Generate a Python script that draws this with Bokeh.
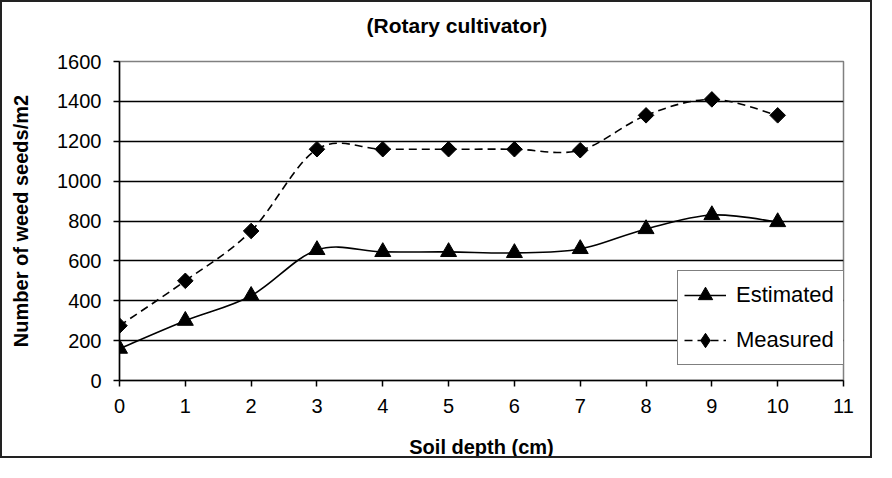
import math
from bokeh.plotting import figure
from bokeh.models import (ColumnDataSource, Legend, LegendItem, FixedTicker,
                          Range1d, Title)
from bokeh.embed import file_html
from bokeh.resources import INLINE

# ---- data ----
depth = [0, 1, 2, 3, 4, 5, 6, 7, 8, 9, 10]
estimated = [160, 300, 425, 655, 645, 645, 640, 660, 760, 830, 795]
measured = [275, 500, 750, 1160, 1160, 1160, 1160, 1155, 1330, 1410, 1330]
x_ticks = [0, 1, 2, 3, 4, 5, 6, 7, 8, 9, 10, 11]
y_ticks = [0, 200, 400, 600, 800, 1000, 1200, 1400, 1600]
grid_ticks = [200, 400, 600, 800, 1000, 1200, 1400]
title_text = "(Rotary cultivator)"
x_title = "Soil depth (cm)"
y_title = "Number of weed seeds/m2"
series_names = ["Estimated", "Measured"]

FONT = "Liberation Sans"
DASH = "8 5"


def smooth_segments(xs, ys):
    """Cubic Bezier pieces (Catmull-Rom style) like Excel's smoothed line."""
    n = len(xs)
    d = dict(x0=[], y0=[], x1=[], y1=[], cx0=[], cy0=[], cx1=[], cy1=[])
    for i in range(n - 1):
        a = i - 1 if i > 0 else i
        b = i + 2 if i + 2 < n else i + 1
        d["x0"].append(xs[i]); d["y0"].append(ys[i])
        d["x1"].append(xs[i + 1]); d["y1"].append(ys[i + 1])
        d["cx0"].append(xs[i] + (xs[i + 1] - xs[a]) / 6)
        d["cy0"].append(ys[i] + (ys[i + 1] - ys[a]) / 6)
        d["cx1"].append(xs[i + 1] - (xs[b] - xs[i]) / 6)
        d["cy1"].append(ys[i + 1] - (ys[b] - ys[i]) / 6)
    return ColumnDataSource(d)


p = figure(width=872, height=458, title=None,
           x_range=Range1d(0, 11), y_range=Range1d(0, 1600),
           output_backend="svg", toolbar_location=None,
           min_border_left=117, min_border_right=31,
           min_border_top=59, min_border_bottom=79,
           background_fill_color="white", border_fill_color="white",
           styles={"border": "2px solid #222222"})

p.outline_line_color = "#808080"
p.outline_line_width = 1.5

# title: an empty spacer nearest the frame, then the real title above it
spacer = Title(text=" ", text_font=FONT, text_font_size="10px", standoff=11)
p.add_layout(spacer, "above")
main_title = Title(text=title_text, text_font=FONT, text_font_size="21px",
                   text_font_style="bold", text_color="black",
                   align="left", vertical_align="middle", offset=247, standoff=0)
p.add_layout(main_title, "above")

# grid
p.xgrid.visible = False
p.ygrid.ticker = FixedTicker(ticks=grid_ticks)
p.ygrid.grid_line_color = "black"
p.ygrid.grid_line_width = 1.4

# axes
for ax in (p.xaxis[0], p.yaxis[0]):
    ax.axis_line_color = "black"
    ax.axis_line_width = 1.5
    ax.major_tick_line_color = "black"
    ax.major_tick_line_width = 1.5
    ax.major_tick_in = 0
    ax.major_tick_out = 6
    ax.minor_tick_line_color = None
    ax.major_label_text_font = FONT
    ax.major_label_text_font_size = "20px"
    ax.major_label_text_color = "black"
    ax.axis_label_text_font = FONT
    ax.axis_label_text_font_size = "20px"
    ax.axis_label_text_font_style = "bold"
    ax.axis_label_text_color = "black"

p.xaxis.ticker = FixedTicker(ticks=x_ticks)
p.yaxis.ticker = FixedTicker(ticks=y_ticks)
p.xaxis.axis_label = x_title
p.yaxis.axis_label = y_title
p.xaxis.major_label_standoff = 12
p.yaxis.major_label_standoff = 12
p.xaxis.axis_label_standoff = 20
p.yaxis.axis_label_standoff = 22

# smoothed curves
est_seg = smooth_segments(depth, estimated)
mea_seg = smooth_segments(depth, measured)
p.bezier(x0="x0", y0="y0", x1="x1", y1="y1", cx0="cx0", cy0="cy0",
         cx1="cx1", cy1="cy1", source=est_seg, line_color="black", line_width=1.6)
p.bezier(x0="x0", y0="y0", x1="x1", y1="y1", cx0="cx0", cy0="cy0",
         cx1="cx1", cy1="cy1", source=mea_seg, line_color="black", line_width=1.6,
         line_dash=DASH)

src = ColumnDataSource(dict(x=depth, est=estimated, mea=measured))
est_pts = p.scatter(x="x", y="est", source=src, marker="triangle", size=16,
                    fill_color="black", line_color="black")
mea_pts = p.scatter(x="x", y="mea", source=src, marker="square", size=11,
                    angle=math.pi / 4, fill_color="black", line_color="black")

# legend-only renderers (hidden in the plot, drawn only in the legend)
est_line = p.line(x="x", y="est", source=src, line_color="black",
                  line_width=1.6, visible=False)
mea_line = p.line(x="x", y="mea", source=src, line_color="black",
                  line_width=1.6, line_dash=DASH, visible=False)
mea_leg_pts = p.scatter(x="x", y="mea", source=src, marker="diamond",
                        fill_color="black", line_color="black", visible=False)

legend = Legend(items=[LegendItem(label=series_names[0], renderers=[est_line, est_pts]),
                       LegendItem(label=series_names[1], renderers=[mea_line, mea_leg_pts])],
                location=(558, 15), orientation="vertical",
                padding=6, spacing=9, margin=0,
                glyph_width=42, glyph_height=36, label_height=36, label_width=103,
                label_standoff=10,
                label_text_font=FONT, label_text_font_size="22px",
                label_text_color="black",
                border_line_color="black", border_line_width=1.5,
                background_fill_color="white", background_fill_alpha=1.0)
p.add_layout(legend, "center")

html = file_html(p, INLINE)
open("out.html", "w").write(html)
